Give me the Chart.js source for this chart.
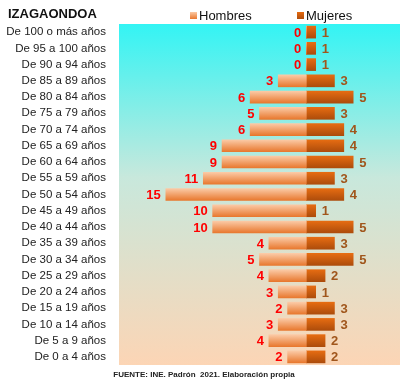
<!DOCTYPE html>
<html>
<head>
<meta charset="utf-8">
<script src="https://cdn.jsdelivr.net/npm/chart.js@4"></script>
<style>
  body { margin: 0; background: #fff; }
  #wrap { position: relative; width: 400px; height: 386px; font-family: "Liberation Sans", Arial, sans-serif; }
  #chart { position: absolute; left: 0; top: 0; }
  .title { position: absolute; left: 8px; top: 6px; font-size: 13px; font-weight: bold; color: #111; }
  .leg { position: absolute; top: 8px; font-size: 13px; color: #111; }
  .leg i { display: inline-block; width: 7px; height: 7px; margin-right: 2px; vertical-align: 1px; }
  .src { position: absolute; left: 0; width: 408px; top: 370px; text-align: center; font-size: 8px; font-weight: bold; color: #222; }
</style>
</head>
<body>
<div id="wrap">
  <canvas id="chart" width="400" height="386"></canvas>
  <div class="title">IZAGAONDOA</div>
  <div class="leg" style="left:190px"><i style="background:linear-gradient(#fbc9a5,#e9782f)"></i>Hombres</div>
  <div class="leg" style="left:297px"><i style="background:linear-gradient(#e56a10,#b04e0c)"></i>Mujeres</div>
  <div class="src">FUENTE: INE. Padrón&nbsp; 2021. Elaboración propia</div>
</div>
<script>
const ageGroups = [
  "De 100 o más años", "De 95 a 100 años", "De 90 a 94 años", "De 85 a 89 años",
  "De 80 a 84 años", "De 75 a 79 años", "De 70 a 74 años", "De 65 a 69 años",
  "De 60 a 64 años", "De 55 a 59 años", "De 50 a 54 años", "De 45 a 49 años",
  "De 40 a 44 años", "De 35 a 39 años", "De 30 a 34 años", "De 25 a 29 años",
  "De 20 a 24 años", "De 15 a 19 años", "De 10 a 14 años", "De 5 a 9 años",
  "De 0 a 4 años"
];
const hombres = [0, 0, 0, 3, 6, 5, 6, 9, 9, 11, 15, 10, 10, 4, 5, 4, 3, 2, 3, 4, 2];
const mujeres = [1, 1, 1, 3, 5, 3, 4, 4, 5, 3, 4, 1, 5, 3, 5, 2, 1, 3, 3, 2, 2];

const barH = 12;

// vertical shading inside each bar
function barFill(top, bottom) {
  return (context) => {
    const chart = context.chart;
    const y = chart.scales.y;
    if (!chart.chartArea || !y || context.dataIndex === undefined) return bottom;
    const cy = y.getPixelForValue(context.dataIndex);
    const g = chart.ctx.createLinearGradient(0, cy - barH / 2, 0, cy + barH / 2);
    g.addColorStop(0, top);
    g.addColorStop(1, bottom);
    return g;
  };
}

const areaBg = {
  id: 'areaBg',
  beforeDraw(chart) {
    const {ctx, chartArea: a} = chart;
    const g = ctx.createLinearGradient(0, a.top, 0, a.bottom);
    g.addColorStop(0, '#33f4f4');
    g.addColorStop(0.45, '#c8e8dc');
    g.addColorStop(1, '#fcd5b5');
    ctx.save();
    ctx.fillStyle = g;
    ctx.fillRect(a.left, a.top, a.right - a.left, a.bottom - a.top);
    ctx.restore();
  }
};

const valueLabels = {
  id: 'valueLabels',
  afterDatasetsDraw(chart) {
    const ctx = chart.ctx;
    ctx.save();
    ctx.font = 'bold 13px "Liberation Sans", Arial, sans-serif';
    ctx.textBaseline = 'middle';
    chart.data.datasets.forEach((ds, di) => {
      const meta = chart.getDatasetMeta(di);
      meta.data.forEach((bar, i) => {
        const v = Math.abs(ds.data[i]);
        if (di === 0) {
          ctx.fillStyle = '#ff0000';
          ctx.textAlign = 'right';
          ctx.fillText(v, bar.x - 5, bar.y + 1);
        } else {
          ctx.fillStyle = '#a0561c';
          ctx.textAlign = 'left';
          ctx.fillText(v, bar.x + 6, bar.y + 1);
        }
      });
    });
    ctx.restore();
  }
};

new Chart(document.getElementById('chart'), {
  type: 'bar',
  data: {
    labels: ageGroups,
    datasets: [
      {
        label: 'Hombres',
        data: hombres.map(v => -v),
        backgroundColor: barFill('#fbcaa6', '#e8782e'),
        barThickness: barH
      },
      {
        label: 'Mujeres',
        data: mujeres,
        backgroundColor: barFill('#e66c12', '#ad4c0b'),
        barThickness: barH
      }
    ]
  },
  options: {
    indexAxis: 'y',
    responsive: false,
    animation: false,
    layout: { padding: { top: 24, bottom: 21, left: 0, right: 0 } },
    plugins: {
      legend: { display: false },
      tooltip: { enabled: false }
    },
    scales: {
      x: {
        stacked: true,
        display: false,
        min: -20,
        max: 10
      },
      y: {
        stacked: true,
        grid: { display: false },
        border: { display: false },
        afterFit(scale) { scale.width = 119; },
        ticks: {
          autoSkip: false,
          color: '#222',
          padding: 5,
          font: { family: '"Liberation Sans", Arial, sans-serif', size: 11.5 }
        }
      }
    }
  },
  plugins: [areaBg, valueLabels]
});
</script>
</body>
</html>
